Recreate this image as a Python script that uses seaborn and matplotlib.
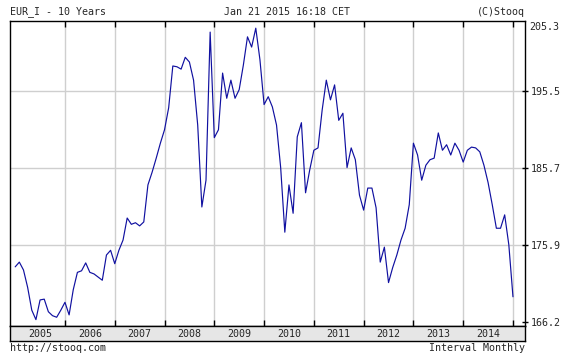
import numpy as np
import pandas as pd
import matplotlib
matplotlib.use("Agg")
import matplotlib.pyplot as plt
import matplotlib.transforms as mtransforms
import seaborn as sns

# Monthly values, Jan 2005 .. Jan 2015
values = [
    173.2, 173.8, 172.8, 170.6, 167.7, 166.5, 169.0, 169.1, 167.5, 167.0, 166.8, 167.7,
    168.7, 167.1, 170.3, 172.5, 172.7, 173.7, 172.5, 172.3, 171.9, 171.5, 174.7, 175.3,
    173.6, 175.3, 176.6, 179.4, 178.6, 178.8, 178.4, 178.9, 183.6, 185.2, 187.0, 188.9,
    190.6, 193.4, 198.7, 198.6, 198.3, 199.8, 199.2, 196.9, 191.2, 180.8, 184.2, 203.0,
    189.6, 190.6, 197.8, 194.6, 196.9, 194.6, 195.7, 198.8, 202.4, 201.1, 203.5, 199.5,
    193.8, 194.8, 193.5, 191.2, 185.8, 177.6, 183.6, 180.0, 189.7, 191.5, 182.6, 185.5,
    188.0, 188.3, 193.1, 196.9, 194.4, 196.3, 191.8, 192.7, 185.8, 188.3, 186.8, 182.3,
    180.4, 183.2, 183.2, 180.7, 173.8, 175.7, 171.2, 173.1, 174.7, 176.6, 178.1, 181.1,
    188.9, 187.4, 184.2, 186.1, 186.8, 187.0, 190.2, 188.0, 188.7, 187.4, 188.9, 188.0,
    186.5, 188.0, 188.4, 188.3, 187.8, 186.1, 183.9, 181.1, 178.1, 178.1, 179.8, 176.0,
    169.4,
]
months = list(range(len(values)))
years = ["2005", "2006", "2007", "2008", "2009", "2010", "2011", "2012", "2013", "2014"]
ytick_vals = [166.2, 175.975, 185.75, 195.525]
ytick_labels = ["166.2", "175.9", "185.7", "195.5"]
top_label = "205.3"

df = pd.DataFrame({"month": months, "value": values})

sns.set_style("white")
plt.rcParams["font.family"] = ["DejaVu Sans Mono", "DejaVu Sans"]
FS = 7.2

W, H = 572, 353
fig = plt.figure(figsize=(W / 100, H / 100), dpi=100)

L, R, T, B = 10, 525, 21, 326
ax = fig.add_axes([L / W, 1 - B / H, (R - L) / W, (B - T) / H])
bax = fig.add_axes([L / W, 1 - 341 / H, (R - L) / W, (341 - B) / H], sharex=ax)

sns.lineplot(data=df, x="month", y="value", ax=ax, color="#1010a0", linewidth=0.85)

ylo, yhi = 165.69, 204.41
ax.set_xlim(-1.25, 122.9)
ax.set_ylim(ylo, yhi)
ax.set_xlabel("")
ax.set_ylabel("")

xt = [12 * k for k in range(1, 11)]
ax.set_xticks(xt)
ax.set_xticklabels([])
ax.grid(False)
for x in xt:
    ax.axvline(x, color="#cfcfcf", lw=1.0, zorder=0)
for y in ytick_vals[1:]:
    ax.axhline(y, color="#cfcfcf", lw=1.0, zorder=0)

ax.yaxis.tick_right()
ax.set_yticks(ytick_vals)
ax.set_yticklabels(ytick_labels, fontsize=FS)
ax.tick_params(axis="y", direction="inout", length=4, width=1, color="black", pad=2)
ax.tick_params(axis="x", which="both", bottom=True, top=True, direction="in",
               length=4, width=1, color="black")
off = mtransforms.offset_copy(ax.transAxes, fig=fig, x=4.6, y=0, units="dots")
ax.text(1.0, (203.6 - ylo) / (yhi - ylo), top_label,
        transform=off, fontsize=FS, va="center", ha="left")
for s in ax.spines.values():
    s.set_color("black")
    s.set_linewidth(1.0)

bax.set_facecolor("#e6e6e6")
bax.set_ylim(0, 1)
bax.set_yticks([])
bax.tick_params(axis="x", bottom=False, labelbottom=False)
for s in bax.spines.values():
    s.set_color("black")
    s.set_linewidth(1.0)
for k, yr in enumerate(years):
    bax.text(6 + 12 * k, 0.45, yr, fontsize=FS, ha="center", va="center")

fig.text(L / W, 1 - 12 / H, "EUR_I - 10 Years", fontsize=FS, ha="left", va="center")
fig.text(287 / W, 1 - 12 / H, "Jan 21 2015 16:18 CET", fontsize=FS, ha="center", va="center")
fig.text(R / W, 1 - 12 / H, "(C)Stooq", fontsize=FS, ha="right", va="center")
fig.text(L / W, 1 - 348 / H, "http://stooq.com", fontsize=FS, ha="left", va="center")
fig.text(R / W, 1 - 348 / H, "Interval Monthly", fontsize=FS, ha="right", va="center")

fig.savefig("out.png", dpi=100)
